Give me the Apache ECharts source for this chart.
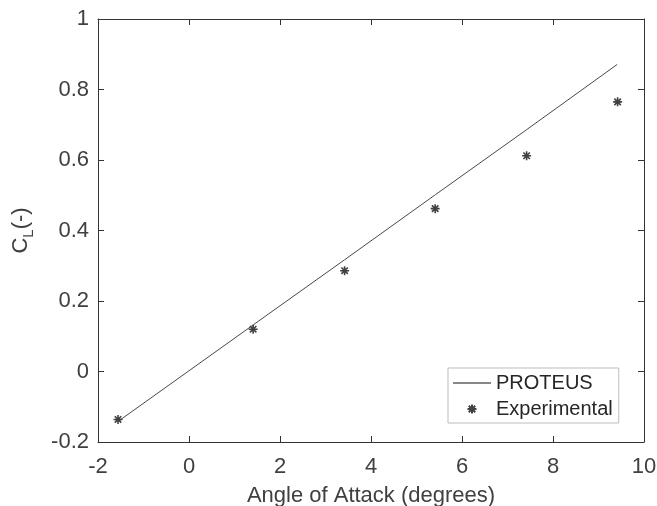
<!DOCTYPE html>
<html>
<head>
<meta charset="utf-8">
<script src="https://cdn.jsdelivr.net/npm/echarts@6/dist/echarts.min.js"></script>
<style>html,body{margin:0;padding:0;background:#fff;}#c{width:657px;height:506px;}</style>
</head>
<body>
<div id="c"></div>
<script>
const xTicks = [-2, 0, 2, 4, 6, 8, 10];
const yTicks = [-0.2, 0, 0.2, 0.4, 0.6, 0.8, 1];
const proteusAlpha = [-1.53, 1.42, 3.42, 5.42, 7.42, 9.41];
const proteusCL = [-0.139, 0.133, 0.317, 0.502, 0.686, 0.871];
const expAlpha = [-1.56, 1.41, 3.42, 5.41, 7.42, 9.42];
const expCL = [-0.136, 0.120, 0.286, 0.462, 0.612, 0.765];

const txt = '#404040';
const axisCol = '#333333';
const font = 'Liberation Sans, Arial, Helvetica, sans-serif';
const star = 'path://M0,-5L0,5M-5,0L5,0M-3.6,-3.6L3.6,3.6M-3.6,3.6L3.6,-3.6';

const chart = echarts.init(document.getElementById('c'), null, {renderer: 'canvas'});
const baseX = {
  type: 'value', min: xTicks[0], max: xTicks[xTicks.length - 1], interval: 2,
  axisLine: {show: true, onZero: false, lineStyle: {color: axisCol, width: 1}},
  axisTick: {show: true, inside: true, length: 6, lineStyle: {color: axisCol}},
  splitLine: {show: false}
};
const baseY = {
  type: 'value', min: yTicks[0], max: yTicks[yTicks.length - 1], interval: 0.2,
  axisLine: {show: true, onZero: false, lineStyle: {color: axisCol, width: 1}},
  axisTick: {show: true, inside: true, length: 6, lineStyle: {color: axisCol}},
  splitLine: {show: false}
};
chart.setOption({
  animation: false,
  backgroundColor: '#fff',
  textStyle: {fontFamily: font},
  grid: {left: 98, right: 13, top: 19, bottom: 64, containLabel: false, outerBoundsMode: 'none'},
  xAxis: [
    Object.assign({}, baseX, {
      position: 'bottom',
      axisLabel: {show: true, color: txt, fontSize: 22, fontFamily: font, margin: 14,
        formatter: v => String(v)},
      name: 'Angle of Attack (degrees)', nameLocation: 'middle', nameGap: 43,
      nameTextStyle: {color: txt, fontSize: 22, fontFamily: font}
    }),
    Object.assign({}, baseX, {position: 'top', axisLabel: {show: false}})
  ],
  yAxis: [
    Object.assign({}, baseY, {
      position: 'left',
      axisLabel: {show: true, color: txt, fontSize: 22, fontFamily: font, margin: 9,
        formatter: v => String(Math.round(v * 10) / 10)},
      name: '{a|C}{s|L}{a|(-)}', nameLocation: 'middle', nameGap: 62, nameRotate: 90,
      nameTextStyle: {color: txt, fontSize: 22, fontFamily: font,
        rich: {
          a: {color: txt, fontSize: 22, fontFamily: font, lineHeight: 30},
          s: {color: txt, fontSize: 15, fontFamily: font, lineHeight: 30, verticalAlign: 'bottom', padding: [12, 0, 0, 0]}
        }}
    }),
    Object.assign({}, baseY, {position: 'right', axisLabel: {show: false}})
  ],
  legend: {
    show: true, orient: 'vertical', left: 448, top: 368,
    backgroundColor: '#fff', borderColor: '#bdbdbd', borderWidth: 1,
    padding: [5, 6, 4, 5], itemGap: 6, itemWidth: 38, itemHeight: 9,
    textStyle: {color: '#262626', fontSize: 20, fontFamily: font},
    data: [
      {name: 'PROTEUS', icon: 'path://M0,0L38,0L38,1.1L0,1.1Z', itemStyle: {color: '#111'}},
      {name: 'Experimental'}
    ]
  },
  series: [
    {
      name: 'PROTEUS', type: 'line', xAxisIndex: 0, yAxisIndex: 0,
      data: proteusAlpha.map((a, i) => [a, proteusCL[i]]),
      showSymbol: false, symbol: 'none',
      lineStyle: {color: '#333', width: 0.9},
      itemStyle: {color: '#333'}
    },
    {
      name: 'Experimental', type: 'scatter', xAxisIndex: 0, yAxisIndex: 0,
      data: expAlpha.map((a, i) => [a, expCL[i]]),
      symbol: star, symbolSize: 9,
      itemStyle: {color: 'rgba(0,0,0,0)', borderColor: '#111', borderWidth: 1.6}
    }
  ]
});
</script>
</body>
</html>
